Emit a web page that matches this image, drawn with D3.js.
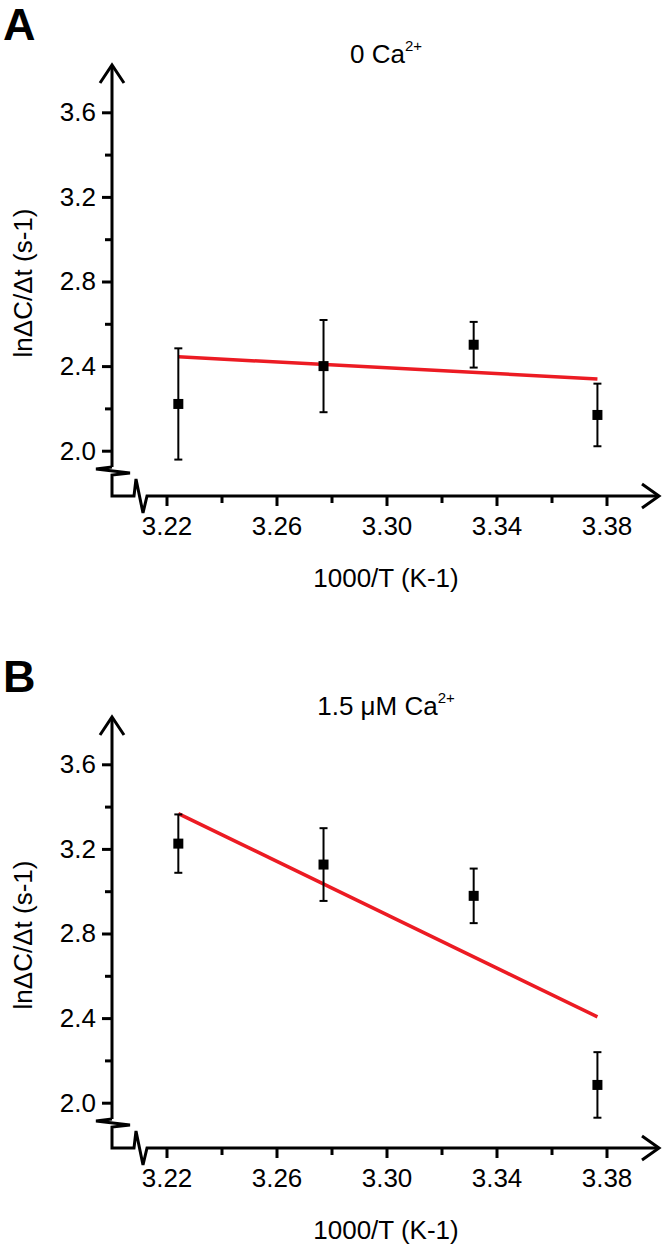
<!DOCTYPE html>
<html><head><meta charset="utf-8">
<script src="https://cdn.jsdelivr.net/npm/d3@7"></script>
<style>
body{margin:0;background:#fff}
svg{display:block}
text{font-family:"Liberation Sans",Arial,sans-serif;fill:#000}
</style>
</head><body>
<svg id="chart" width="666" height="1250"></svg>
<script>
// ---- data ----
const invT = [3.2243, 3.2771, 3.3317, 3.3767];           // 1000/T (K-1)
const panelLabels = ["A", "B"];
const titleMain = ["0 Ca", "1.5 μM Ca"];
const titleSup = ["2+", "2+"];
const meanA = [2.221, 2.400, 2.501, 2.169];
const errA  = [0.263, 0.218, 0.108, 0.148];
const fitA  = [2.444, 2.339];
const meanB = [3.225, 3.126, 2.978, 2.084];
const errB  = [0.138, 0.172, 0.129, 0.155];
const fitB  = [3.367, 2.406];
const xTicks = [3.22, 3.26, 3.30, 3.34, 3.38];
const xMinor = [3.24, 3.28, 3.32, 3.36];
const yTicks = [2.0, 2.4, 2.8, 3.2, 3.6];
const yMinor = [2.2, 2.6, 3.0, 3.4];
const xTitle = "1000/T (K-1)";
const yTitle = "lnΔC/Δt (s-1)";

const panels = [
  {label: panelLabels[0], t: titleMain[0], sup: titleSup[0], mean: meanA, err: errA, fit: fitA},
  {label: panelLabels[1], t: titleMain[1], sup: titleSup[1], mean: meanB, err: errB, fit: fitB}
];

const svg = d3.select("#chart");
const FS = 26;
const x = d3.scaleLinear().domain([3.22, 3.38]).range([166.5, 606.5]);
const y = d3.scaleLinear().domain([2.0, 3.6]).range([450.7, 112.3]);
const axX = 112, axY = 496;   // axis positions
const red = "#ec1b23";

panels.forEach((p, i) => {
  const g = svg.append("g").attr("transform", `translate(0,${i * 652})`);

  // panel letter
  g.append("text").attr("x", 3).attr("y", 40)
    .attr("font-size", 45).attr("font-weight", "bold").text(p.label);

  // title
  const tt = g.append("text").attr("x", 386).attr("y", 63)
    .attr("text-anchor", "middle").attr("font-size", 26);
  tt.append("tspan").text(p.t);
  tt.append("tspan").attr("font-size", 15).attr("dy", -12).text(p.sup);

  // y axis ticks
  const yAx = g.append("g").attr("transform", `translate(${axX},0)`)
    .call(d3.axisLeft(y).tickValues(yTicks).tickFormat(d3.format(".1f")).tickSize(10).tickPadding(6));
  const yAxm = g.append("g").attr("transform", `translate(${axX},0)`)
    .call(d3.axisLeft(y).tickValues(yMinor).tickFormat("").tickSize(7));
  // x axis ticks
  const xAx = g.append("g").attr("transform", `translate(0,${axY})`)
    .call(d3.axisBottom(x).tickValues(xTicks).tickFormat(d3.format(".2f")).tickSize(10).tickPadding(11));
  const xAxm = g.append("g").attr("transform", `translate(0,${axY})`)
    .call(d3.axisBottom(x).tickValues(xMinor).tickFormat("").tickSize(7));
  [yAx, yAxm, xAx, xAxm].forEach(a => {
    a.select(".domain").remove();
    a.selectAll(".tick line").attr("stroke", "#000").attr("stroke-width", 3);
    a.selectAll(".tick text").attr("font-size", FS).attr("font-family", "Liberation Sans, Arial, sans-serif").attr("fill", "#000");
  });

  // axis lines with breaks
  const ax = g.append("g").attr("fill", "none").attr("stroke", "#000").attr("stroke-width", 3)
    .attr("stroke-linejoin", "miter");
  ax.append("path").attr("d", `M${axX},66 L${axX},467`);
  ax.append("path").attr("d", `M${axX},467 L96,469 L130,473 L${axX},475 L${axX},${axY} L134,${axY} L136,479 L143,513 L147,${axY} L659,${axY}`);
  // arrow heads
  ax.append("path").attr("d", `M100,83 L${axX},65 L124,83`);
  ax.append("path").attr("d", `M642,484 L659,${axY} L642,508`);

  // axis titles
  g.append("text").attr("x", 386).attr("y", 587).attr("text-anchor", "middle")
    .attr("font-size", FS).text(xTitle);
  g.append("text").attr("transform", "translate(32,283) rotate(-90)")
    .attr("text-anchor", "middle").attr("font-size", FS).text(yTitle);

  // fit line
  g.append("line")
    .attr("x1", x(invT[0])).attr("y1", y(p.fit[0]))
    .attr("x2", x(invT[invT.length - 1])).attr("y2", y(p.fit[1]))
    .attr("stroke", red).attr("stroke-width", 3.5);

  // error bars
  const eb = g.append("g").attr("stroke", "#000").attr("stroke-width", 2);
  invT.forEach((xv, k) => {
    const cx = x(xv), top = y(p.mean[k] + p.err[k]), bot = y(p.mean[k] - p.err[k]);
    eb.append("line").attr("x1", cx).attr("x2", cx).attr("y1", top).attr("y2", bot);
    eb.append("line").attr("x1", cx - 4).attr("x2", cx + 4).attr("y1", top).attr("y2", top);
    eb.append("line").attr("x1", cx - 4).attr("x2", cx + 4).attr("y1", bot).attr("y2", bot);
  });
  // markers
  g.append("g").selectAll("rect").data(invT).join("rect")
    .attr("x", d => x(d) - 5).attr("y", (d, k) => y(p.mean[k]) - 5)
    .attr("width", 10).attr("height", 10).attr("fill", "#000");
});
</script>
</body></html>
